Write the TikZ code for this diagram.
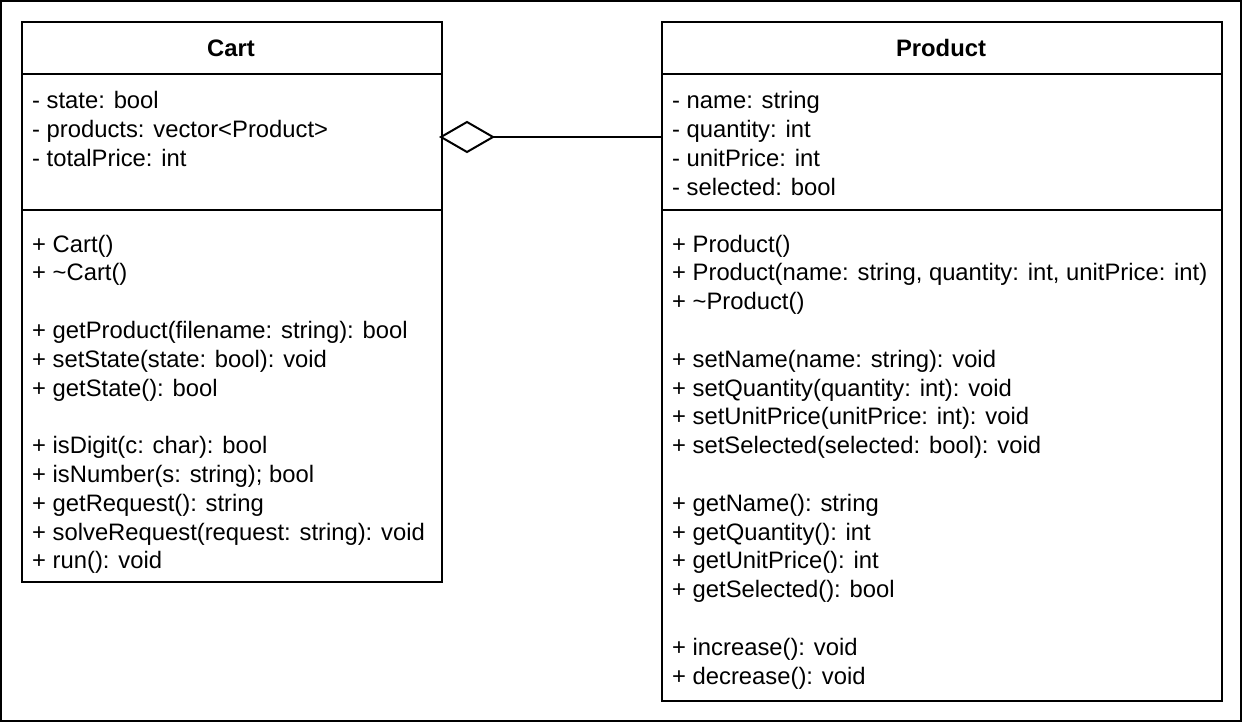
\documentclass[tikz,border=0pt]{standalone}
\usepackage{fontspec}
\setmainfont{Liberation Sans}
\begin{document}
\begin{tikzpicture}[x=1pt,y=-1pt,
  box/.style={draw=black,line width=2pt,anchor=north west,inner sep=0pt,fill=white},
  head/.style={font=\fontsize{23.8}{28.8}\selectfont\bfseries,inner sep=0pt},
  txt/.style={font=\fontsize{23.8}{28.8}\selectfont,anchor=base west,inner sep=0pt},
  link/.style={draw=black,line width=2pt}]
\useasboundingbox (0,0) rectangle (1242,722);
\draw[line width=2pt] (1,1) rectangle (1241,721);
% Cart
\node[box,minimum width=420pt,minimum height=52pt] (cart) at (21,21) {};
\node[box,minimum width=420pt,minimum height=136pt] (cartattr) at (21,73) {};
\node[box,minimum width=420pt,minimum height=372pt] (cartmeth) at (21,209) {};
\node[head] (cartname) at (231,48) {Cart};
\foreach \t [count=\i from 0] in {{- state: bool},{- products: vector<Product>},{- totalPrice: int}}
  \node[txt] (ca\i) at (32,109+28.8*\i) {\t};
\foreach \t [count=\i from 0] in {{+ Cart()},{+ \textasciitilde Cart()},{},{+ getProduct(filename: string): bool},{+ setState(state: bool): void},{+ getState(): bool},{},{+ isDigit(c: char): bool},{+ isNumber(s: string); bool},{+ getRequest(): string},{+ solveRequest(request: string): void},{+ run(): void}}
  \node[txt] (cm\i) at (32,252+28.8*\i) {\t};
% Product
\node[box,minimum width=560pt,minimum height=52pt] (prod) at (661,21) {};
\node[box,minimum width=560pt,minimum height=136pt] (prodattr) at (661,73) {};
\node[box,minimum width=560pt,minimum height=491pt] (prodmeth) at (661,209) {};
\node[head] (prodname) at (941,48) {Product};
\foreach \t [count=\i from 0] in {{- name: string},{- quantity: int},{- unitPrice: int},{- selected: bool}}
  \node[txt] (pa\i) at (672,109+28.8*\i) {\t};
\foreach \t [count=\i from 0] in {{+ Product()},{+ Product(name: string, quantity: int, unitPrice: int)},{+ \textasciitilde Product()},{},{+ setName(name: string): void},{+ setQuantity(quantity: int): void},{+ setUnitPrice(unitPrice: int): void},{+ setSelected(selected: bool): void},{},{+ getName(): string},{+ getQuantity(): int},{+ getUnitPrice(): int},{+ getSelected(): bool},{},{+ increase(): void},{+ decrease(): void}}
  \node[txt] (pm\i) at (672,252+28.8*\i) {\t};
% aggregation
\coordinate (dA) at (441,137);
\coordinate (dT) at (467,122);
\coordinate (dB) at (467,152);
\coordinate (dE) at (493,137);
\coordinate (pL) at (661,137);
\draw[link,line join=miter,fill=white] (dA) -- (dT) -- (dE) -- (dB) -- cycle;
\draw[link] (dE) -- (pL);
\end{tikzpicture}
\end{document}
